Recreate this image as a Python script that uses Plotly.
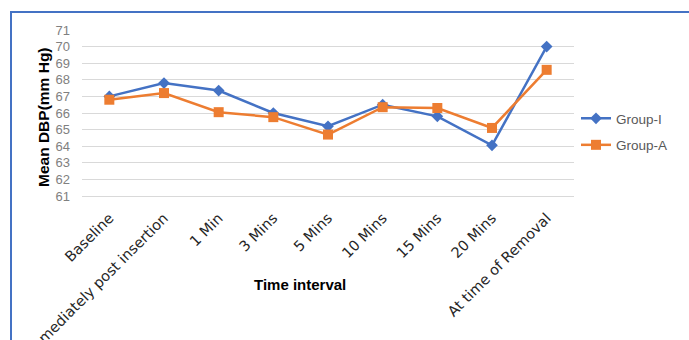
import plotly.graph_objects as go

categories = ["Baseline", "Immediately post insertion", "1 Min", "3 Mins", "5 Mins",
              "10 Mins", "15 Mins", "20 Mins", "At time of Removal"]
group_i = [67.0, 67.8, 67.35, 66.0, 65.2, 66.5, 65.8, 64.05, 70.0]
group_a = [66.8, 67.2, 66.05, 65.75, 64.7, 66.35, 66.3, 65.1, 68.6]
y_ticks = list(range(61, 72))

BLUE = "#4472C4"
ORANGE = "#ED7D31"
FONT = "Liberation Sans, Arial, sans-serif"

# plot-area geometry in pixels
L, R, T, B = 82, 574, 30, 196
W, H = R - L, B - T


def px_x(x):
    return (x - L) / W


def px_y(y):
    return (B - y) / H


fig = go.Figure()
fig.add_trace(go.Scatter(
    x=categories, y=group_i, name="Group-I", mode="lines+markers", legendgroup="i",
    line=dict(color=BLUE, width=2.5),
    marker=dict(symbol="diamond", size=9, color=BLUE),
))
fig.add_trace(go.Scatter(
    x=categories, y=group_a, name="Group-A", mode="lines+markers", legendgroup="a",
    line=dict(color=ORANGE, width=2.5),
    marker=dict(symbol="square", size=10, color=ORANGE),
))

fig.update_layout(
    width=689, height=340,
    margin=dict(l=L, r=689 - R, t=T, b=340 - B, autoexpand=False),
    paper_bgcolor="white", plot_bgcolor="white",
    font=dict(family=FONT),
    legend=dict(
        x=px_x(576), y=px_y(132), xanchor="left", yanchor="middle",
        font=dict(size=13.5, color="#595959"),
        bgcolor="rgba(0,0,0,0)", tracegroupgap=6, itemwidth=30,
        traceorder="grouped",
    ),
    xaxis=dict(
        type="category", tickangle=-45, automargin=False,
        tickfont=dict(family="DejaVu Sans", size=14.5, color="#262626"),
        showgrid=False, showline=True, linecolor="#D9D9D9", linewidth=1,
        ticks="", ticklabelstandoff=7, range=[-0.5, len(categories) - 0.5],
    ),
    yaxis=dict(
        range=[61, 71], tickvals=y_ticks, automargin=False,
        tickfont=dict(size=13, color="#808080"),
        showgrid=True, gridcolor="#D9D9D9", gridwidth=1,
        zeroline=False, showline=False, ticks="", ticklabelstandoff=11,
    ),
    annotations=[
        dict(text="<b>Mean DBP(mm Hg)</b>", xref="paper", yref="paper",
             x=px_x(43), y=px_y(117), textangle=-90, showarrow=False,
             xanchor="center", yanchor="middle",
             font=dict(size=15.5, color="black")),
        dict(text="<b>Time interval</b>", xref="paper", yref="paper",
             x=px_x(300), y=px_y(284), xanchor="center", yanchor="middle",
             showarrow=False, font=dict(size=15, color="black")),
    ],
    shapes=[
        dict(type="rect", xref="paper", yref="paper",
             x0=px_x(11), x1=px_x(760), y0=px_y(420), y1=px_y(12),
             line=dict(color=BLUE, width=2), fillcolor="rgba(0,0,0,0)",
             layer="above"),
    ],
)

fig.write_html("out.html")
